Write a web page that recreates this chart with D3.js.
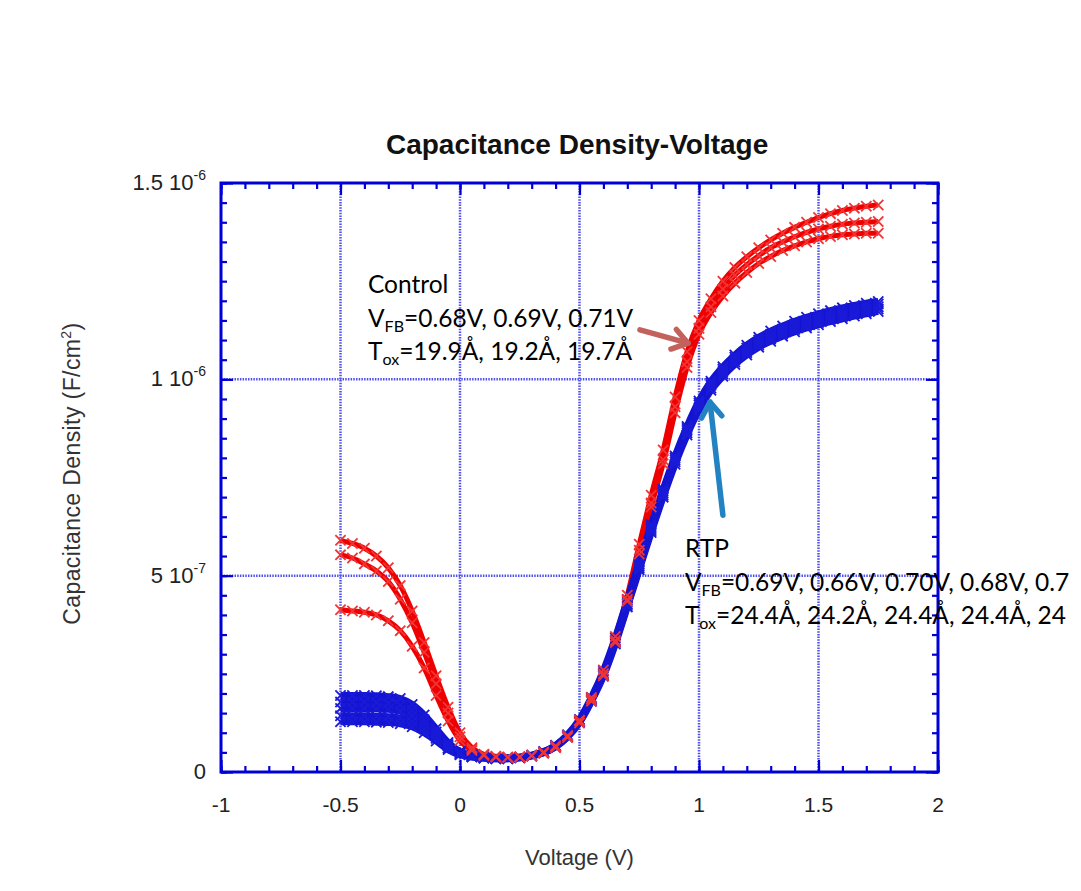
<!DOCTYPE html>
<html>
<head>
<meta charset="utf-8">
<script src="https://cdn.jsdelivr.net/npm/d3@7"></script>
<style>
  body { margin: 0; background: #fff; }
  text { font-family: "Liberation Sans", Arial, sans-serif; }
  .note { font-family: Lato, "Open Sans", sans-serif; fill: #000; }
</style>
</head>
<body>
<svg width="1081" height="891"></svg>
<script>
// capacitance values are in units of 1e-7 F/cm^2
const voltage = [-0.5, -0.45, -0.4, -0.35, -0.3, -0.25, -0.2, -0.15, -0.1, -0.05,
  0, 0.05, 0.1, 0.15, 0.2, 0.25, 0.3, 0.35, 0.4, 0.45,
  0.5, 0.55, 0.6, 0.65, 0.7, 0.75, 0.8, 0.85, 0.9, 0.95,
  1.0, 1.05, 1.1, 1.15, 1.2, 1.25, 1.3, 1.35, 1.4, 1.45,
  1.5, 1.55, 1.6, 1.65, 1.7, 1.75];

const control1 = [5.9, 5.82, 5.7, 5.5, 5.2, 4.75, 4.1, 3.3, 2.45, 1.65,
  1.0, 0.62, 0.45, 0.4, 0.38, 0.38, 0.42, 0.5, 0.66, 0.92,
  1.3, 1.85, 2.5, 3.35, 4.4, 5.65, 6.85, 7.95, 9.3, 10.45,
  11.3, 11.85, 12.3, 12.65, 12.92, 13.15, 13.35, 13.5, 13.63, 13.74,
  13.83, 13.9, 13.95, 13.98, 14.0, 14.02];
const control2 = [5.53, 5.45, 5.3, 5.12, 4.85, 4.4, 3.8, 3.05, 2.25, 1.5,
  0.9, 0.58, 0.44, 0.39, 0.37, 0.38, 0.41, 0.48, 0.62, 0.88,
  1.25, 1.8, 2.45, 3.3, 4.35, 5.55, 6.75, 7.85, 9.15, 10.3,
  11.15, 11.7, 12.12, 12.45, 12.72, 12.95, 13.13, 13.28, 13.4, 13.5,
  13.58, 13.64, 13.68, 13.7, 13.72, 13.72];
const control3 = [4.13, 4.1, 4.07, 4.0, 3.85, 3.6, 3.2, 2.65, 1.95, 1.3,
  0.8, 0.55, 0.42, 0.38, 0.37, 0.38, 0.42, 0.5, 0.66, 0.92,
  1.32, 1.9, 2.6, 3.45, 4.5, 5.8, 7.05, 8.2, 9.55, 10.7,
  11.5, 12.05, 12.5, 12.85, 13.12, 13.35, 13.55, 13.72, 13.87, 14.0,
  14.12, 14.22, 14.3, 14.36, 14.41, 14.44];

const rtp1 = [1.95, 1.95, 1.95, 1.94, 1.92, 1.87, 1.72, 1.45, 1.1, 0.75,
  0.52, 0.42, 0.38, 0.36, 0.36, 0.38, 0.43, 0.52, 0.68, 0.95,
  1.34, 1.9, 2.58, 3.42, 4.38, 5.35, 6.3, 7.2, 8.05, 8.8,
  9.45, 9.95, 10.32, 10.62, 10.87, 11.07, 11.23, 11.36, 11.48, 11.58,
  11.67, 11.75, 11.82, 11.88, 11.94, 11.98];
const rtp2 = [1.78, 1.78, 1.78, 1.77, 1.75, 1.7, 1.57, 1.33, 1.02, 0.7,
  0.5, 0.41, 0.37, 0.35, 0.35, 0.37, 0.42, 0.51, 0.67, 0.93,
  1.31, 1.87, 2.53, 3.37, 4.32, 5.3, 6.25, 7.15, 8.0, 8.75,
  9.4, 9.9, 10.26, 10.56, 10.8, 11.0, 11.15, 11.28, 11.4, 11.5,
  11.58, 11.66, 11.73, 11.8, 11.86, 11.92];
const rtp3 = [1.62, 1.62, 1.62, 1.61, 1.6, 1.55, 1.44, 1.23, 0.95, 0.66,
  0.48, 0.4, 0.37, 0.35, 0.35, 0.37, 0.42, 0.5, 0.66, 0.92,
  1.3, 1.85, 2.5, 3.33, 4.28, 5.25, 6.2, 7.1, 7.95, 8.7,
  9.35, 9.85, 10.2, 10.5, 10.74, 10.94, 11.09, 11.22, 11.33, 11.43,
  11.51, 11.59, 11.66, 11.73, 11.79, 11.85];
const rtp4 = [1.43, 1.43, 1.43, 1.42, 1.41, 1.37, 1.28, 1.1, 0.86, 0.61,
  0.46, 0.39, 0.36, 0.34, 0.34, 0.36, 0.41, 0.49, 0.65, 0.9,
  1.28, 1.82, 2.47, 3.3, 4.24, 5.2, 6.15, 7.05, 7.9, 8.64,
  9.28, 9.78, 10.14, 10.44, 10.68, 10.88, 11.03, 11.16, 11.27, 11.37,
  11.45, 11.53, 11.6, 11.67, 11.73, 11.79];
const rtp5 = [1.28, 1.28, 1.28, 1.27, 1.26, 1.23, 1.15, 1.0, 0.79, 0.57,
  0.44, 0.38, 0.35, 0.34, 0.34, 0.36, 0.41, 0.49, 0.64, 0.89,
  1.26, 1.8, 2.44, 3.26, 4.2, 5.15, 6.1, 7.0, 7.84, 8.58,
  9.22, 9.72, 10.08, 10.38, 10.62, 10.82, 10.97, 11.1, 11.21, 11.31,
  11.39, 11.47, 11.54, 11.61, 11.67, 11.73];

const controlSeries = [control1, control2, control3];
const rtpSeries = [rtp1, rtp2, rtp3, rtp4, rtp5];

const xTicks = [-1, -0.5, 0, 0.5, 1, 1.5, 2];
const xTickLabels = ['-1', '-0.5', '0', '0.5', '1', '1.5', '2'];
const yTicks = [0, 5, 10, 15];
const yTickLabels = [['0', ''], ['5 10', '-7'], ['1 10', '-6'], ['1.5 10', '-6']];

const title = 'Capacitance Density-Voltage';
const xTitle = 'Voltage (V)';

// annotation anchors in data units [V, C]
const controlNote = {at: [-0.385, 12.2], lines: ['Control', ['V', 'FB', '=0.68V, 0.69V, 0.71V'], ['T', 'ox', '=19.9Å, 19.2Å, 19.7Å']]};
const rtpNote = {at: [0.941, 5.47], lines: ['RTP', ['V', 'FB', '=0.69V, 0.66V, 0.70V, 0.68V, 0.7'], ['T', 'ox', '=24.4Å, 24.2Å, 24.4Å, 24.4Å, 24']]};
const controlArrow = [[0.753, 11.26], [0.954, 10.92]];
const rtpArrow = [[1.100, 6.54], [1.046, 9.42]];

const svg = d3.select('svg');
const margin = {top: 183, right: 143, bottom: 119, left: 221};
const width = +svg.attr('width') - margin.left - margin.right;
const height = +svg.attr('height') - margin.top - margin.bottom;
const g = svg.append('g')
  .attr('transform', `translate(${margin.left},${margin.top})`);

const x = d3.scaleLinear().domain([-1, 2]).range([0, width]);
const y = d3.scaleLinear().domain([0, 15]).range([height, 0]);

const frameColor = '#0000d6';
const gridColor = '#5050ee';

// grid
g.append('g').selectAll('line')
  .data(xTicks.slice(1, -1))
  .enter().append('line')
    .attr('x1', d => x(d)).attr('x2', d => x(d))
    .attr('y1', 0).attr('y2', height)
    .attr('stroke', gridColor).attr('stroke-width', 2.5)
    .attr('stroke-dasharray', '1.5,1.2');
g.append('g').selectAll('line')
  .data(yTicks.slice(1, -1))
  .enter().append('line')
    .attr('y1', d => y(d)).attr('y2', d => y(d))
    .attr('x1', 0).attr('x2', width)
    .attr('stroke', gridColor).attr('stroke-width', 2.5)
    .attr('stroke-dasharray', '1.5,1.2');

// inward ticks on all four sides
const minorX = d3.range(-10, 21).map(i => i / 10);
const minorY = d3.range(0, 31).map(i => i / 2);
function tickAxis(axis, transform) {
  const a = g.append('g').attr('transform', transform).call(axis);
  a.select('.domain').remove();
  a.selectAll('line').attr('stroke', frameColor).attr('stroke-width', 2.2);
  a.selectAll('text').remove();
}
tickAxis(d3.axisBottom(x).tickValues(minorX).tickSize(-6), `translate(0,${height})`);
tickAxis(d3.axisBottom(x).tickValues(xTicks).tickSize(-12), `translate(0,${height})`);
tickAxis(d3.axisTop(x).tickValues(minorX).tickSize(-6), 'translate(0,0)');
tickAxis(d3.axisTop(x).tickValues(xTicks).tickSize(-12), 'translate(0,0)');
tickAxis(d3.axisLeft(y).tickValues(minorY).tickSize(-6), 'translate(0,0)');
tickAxis(d3.axisLeft(y).tickValues(yTicks).tickSize(-12), 'translate(0,0)');
tickAxis(d3.axisRight(y).tickValues(minorY).tickSize(-6), `translate(${width},0)`);
tickAxis(d3.axisRight(y).tickValues(yTicks).tickSize(-12), `translate(${width},0)`);

// curves
const line = d3.line()
  .x((d, i) => x(voltage[i]))
  .y(d => y(d))
  .curve(d3.curveMonotoneX);
const cross = d3.symbol(d3.symbolX, 70);

function drawLines(series, color, w) {
  g.append('g').selectAll('path')
    .data(series)
    .enter().append('path')
      .attr('d', line)
      .attr('fill', 'none')
      .attr('stroke', color)
      .attr('stroke-width', w)
      .attr('stroke-linejoin', 'round');
}
function drawMarks(series, color) {
  g.append('g').selectAll('.s')
    .data(series)
    .enter().append('g')
    .selectAll('path')
    .data(d => d)
    .enter().append('path')
      .attr('d', cross)
      .attr('transform', (d, i) => `translate(${x(voltage[i])},${y(d)})`)
      .attr('fill', 'none')
      .attr('stroke', color)
      .attr('stroke-width', 1.8);
}

drawLines(controlSeries, '#ee0000', 5);
drawLines(rtpSeries, '#1414d2', 7);
drawMarks(rtpSeries, '#1a1ad8');
drawMarks(controlSeries, '#f23434');

// frame
g.append('rect')
  .attr('width', width).attr('height', height)
  .attr('fill', 'none')
  .attr('stroke', frameColor).attr('stroke-width', 3);

// tick labels
g.append('g').selectAll('text')
  .data(xTicks)
  .enter().append('text')
    .attr('x', d => x(d))
    .attr('y', height + 40)
    .attr('text-anchor', 'middle')
    .attr('font-size', 21)
    .attr('fill', '#222')
    .text((d, i) => xTickLabels[i]);

const yl = g.append('g').selectAll('text')
  .data(yTicks)
  .enter().append('text')
    .attr('x', -15)
    .attr('y', d => y(d) + 7)
    .attr('text-anchor', 'end')
    .attr('font-size', 22)
    .attr('fill', '#222');
yl.append('tspan').text((d, i) => yTickLabels[i][0]);
yl.append('tspan')
  .attr('dy', -10)
  .attr('font-size', 14)
  .text((d, i) => yTickLabels[i][1]);

// titles
svg.append('text')
  .attr('x', margin.left + x(0.49))
  .attr('y', 154)
  .attr('text-anchor', 'middle')
  .attr('font-size', 28)
  .attr('font-weight', 'bold')
  .attr('fill', '#111')
  .text(title);

svg.append('text')
  .attr('x', margin.left + x(0.5))
  .attr('y', 865)
  .attr('text-anchor', 'middle')
  .attr('font-size', 22)
  .attr('fill', '#333')
  .text(xTitle);

const yTitle = svg.append('text')
  .attr('transform', `translate(80,${margin.top + y(7.6)}) rotate(-90)`)
  .attr('text-anchor', 'middle')
  .attr('font-size', 23)
  .attr('letter-spacing', 0.4)
  .attr('fill', '#333');
yTitle.append('tspan').text('Capacitance Density (F/cm');
yTitle.append('tspan').attr('dy', -9).attr('font-size', 14).text('2');
yTitle.append('tspan').attr('dy', 9).text(')');

// annotations
function note(n) {
  const t = g.append('g')
    .attr('transform', `translate(${x(n.at[0])},${y(n.at[1])})`);
  n.lines.forEach((l, i) => {
    const tx = t.append('text')
      .attr('class', 'note')
      .attr('y', i === 0 ? 0 : i * 33 + 1)
      .attr('font-size', 24.5);
    if (typeof l === 'string') { tx.text(l); return; }
    tx.append('tspan').text(l[0]);
    tx.append('tspan').attr('dy', 5).attr('font-size', 16).text(l[1]);
    tx.append('tspan').attr('dy', -5).text(l[2]);
  });
}
note(controlNote);
note(rtpNote);

function arrow(pts, color) {
  const [a, b] = pts.map(p => [x(p[0]), y(p[1])]);
  const ang = Math.atan2(b[1] - a[1], b[0] - a[0]);
  const L = 18, spread = 0.6;
  const w1 = [b[0] - L * Math.cos(ang - spread), b[1] - L * Math.sin(ang - spread)];
  const w2 = [b[0] - L * Math.cos(ang + spread), b[1] - L * Math.sin(ang + spread)];
  const p = g.append('g').attr('stroke', color).attr('fill', 'none')
    .attr('stroke-width', 5.5).attr('stroke-linecap', 'round').attr('stroke-linejoin', 'round');
  p.append('path').attr('d', d3.line()([a, b]));
  p.append('path').attr('d', d3.line()([w1, b, w2]));
}
arrow(controlArrow, '#c3625c');
arrow(rtpArrow, '#2383c2');
</script>
</body>
</html>
